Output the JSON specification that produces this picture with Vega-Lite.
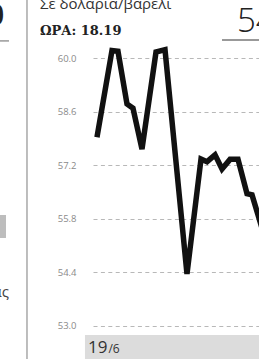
{
  "$schema": "https://vega.github.io/schema/vega-lite/v6.json",
  "autosize": {"type": "none"},
  "width": 166,
  "height": 320,
  "padding": {"left": 93, "top": 39, "right": 0, "bottom": 0},
  "background": "white",
  "config": {
    "view": {"stroke": null},
    "axisY": {"title": null, "domain": false, "ticks": false, "grid": true, "gridDash": [4, 3.4], "gridColor": "#b8b8b8", "gridWidth": 1.1,
      "format": ".1f", "labelFont": "Open Sans", "labelFontSize": 9.5, "labelColor": "#8a8a8a", "labelPadding": 17}
  },
  "data": {"values": [
    {"t": 0.13, "price": 57.93},
    {"t": 2.13, "price": 60.2},
    {"t": 2.93, "price": 60.18},
    {"t": 4.13, "price": 58.8},
    {"t": 4.93, "price": 58.69},
    {"t": 6.13, "price": 57.62},
    {"t": 8.0, "price": 60.16},
    {"t": 9.2, "price": 60.22},
    {"t": 12.13, "price": 54.35},
    {"t": 14.0, "price": 57.36},
    {"t": 14.8, "price": 57.29},
    {"t": 15.87, "price": 57.47},
    {"t": 16.8, "price": 57.1},
    {"t": 17.87, "price": 57.35},
    {"t": 18.93, "price": 57.35},
    {"t": 20.13, "price": 56.45},
    {"t": 20.8, "price": 56.42},
    {"t": 22.13, "price": 55.55}
  ]},
  "layer": [
    {
      "data": {"values": [{"label": "19/6"}]},
      "mark": {"type": "rect", "color": "#dcdcdc", "clip": false},
      "encoding": {
        "x": {"datum": -1.47, "type": "quantitative", "scale": {"domain": [-0.4, 21.73], "nice": false, "zero": false}, "axis": null},
        "x2": {"datum": 30},
        "y": {"datum": 51.9, "type": "quantitative", "scale": {"domain": [52.126, 60.5], "nice": false, "zero": false}, "title": null, "axis": {"values": [53, 54.4, 55.8, 57.2, 58.6, 60]}},
        "y2": {"datum": 52.754}
      }
    },
    {
      "mark": {"type": "line", "color": "#111111", "strokeWidth": 5.5, "strokeJoin": "miter", "clip": true},
      "encoding": {
        "x": {"field": "t", "type": "quantitative", "scale": {"domain": [-0.4, 21.73], "nice": false, "zero": false}, "axis": null},
        "y": {"field": "price", "type": "quantitative", "scale": {"domain": [52.126, 60.5], "nice": false, "zero": false}, "title": null, "axis": {"values": [53, 54.4, 55.8, 57.2, 58.6, 60]}}
      }
    },
    {
      "data": {"values": [{"label": "divider"}]},
      "mark": {"type": "rule", "color": "#a8a8a8", "strokeWidth": 1.5, "clip": false},
      "encoding": {
        "x": {"datum": -9.2, "type": "quantitative", "scale": {"domain": [-0.4, 21.73], "nice": false, "zero": false}, "axis": null},
        "y": {"datum": 51.9, "type": "quantitative", "scale": {"domain": [52.126, 60.5], "nice": false, "zero": false}, "title": null, "axis": {"values": [53, 54.4, 55.8, 57.2, 58.6, 60]}},
        "y2": {"datum": 61.7}
      }
    },
    {
      "data": {"values": [{"label": "underline"}]},
      "mark": {"type": "rule", "color": "#999999", "strokeWidth": 2, "clip": false},
      "encoding": {
        "x": {"datum": 16.8, "type": "quantitative", "scale": {"domain": [-0.4, 21.73], "nice": false, "zero": false}, "axis": null},
        "x2": {"datum": 27},
        "y": {"datum": 60.474, "type": "quantitative", "scale": {"domain": [52.126, 60.5], "nice": false, "zero": false}, "title": null, "axis": {"values": [53, 54.4, 55.8, 57.2, 58.6, 60]}}
      }
    },
    {
      "data": {"values": [{"label": "left-line"}]},
      "mark": {"type": "rule", "color": "#999999", "strokeWidth": 1.5, "clip": false},
      "encoding": {
        "x": {"datum": -13, "type": "quantitative", "scale": {"domain": [-0.4, 21.73], "nice": false, "zero": false}, "axis": null},
        "x2": {"datum": -11.6},
        "y": {"datum": 60.45, "type": "quantitative", "scale": {"domain": [52.126, 60.5], "nice": false, "zero": false}, "title": null, "axis": {"values": [53, 54.4, 55.8, 57.2, 58.6, 60]}}
      }
    },
    {
      "data": {"values": [{"label": "left-box"}]},
      "mark": {"type": "rect", "color": "#bdbdbd", "clip": false},
      "encoding": {
        "x": {"datum": -13, "type": "quantitative", "scale": {"domain": [-0.4, 21.73], "nice": false, "zero": false}, "axis": null},
        "x2": {"datum": -12.0},
        "y": {"datum": 55.894, "type": "quantitative", "scale": {"domain": [52.126, 60.5], "nice": false, "zero": false}, "title": null, "axis": {"values": [53, 54.4, 55.8, 57.2, 58.6, 60]}},
        "y2": {"datum": 55.293}
      }
    },
    {
      "data": {"values": [{"label": "Σε δολάρια/βαρέλι"}]},
      "mark": {"type": "text", "align": "left", "baseline": "alphabetic", "font": "Open Sans", "fontSize": 15, "color": "#333333", "clip": false},
      "encoding": {
        "text": {"field": "label"},
        "x": {"datum": -7.47, "type": "quantitative", "scale": {"domain": [-0.4, 21.73], "nice": false, "zero": false}, "axis": null},
        "y": {"datum": 61.285, "type": "quantitative", "scale": {"domain": [52.126, 60.5], "nice": false, "zero": false}, "title": null, "axis": {"values": [53, 54.4, 55.8, 57.2, 58.6, 60]}}
      }
    },
    {
      "data": {"values": [{"label": "ΩΡΑ: 18.19"}]},
      "mark": {"type": "text", "align": "left", "baseline": "alphabetic", "font": "DejaVu Serif", "fontWeight": "bold", "fontSize": 13, "color": "#222222", "clip": false},
      "encoding": {
        "text": {"field": "label"},
        "x": {"datum": -7.47, "type": "quantitative", "scale": {"domain": [-0.4, 21.73], "nice": false, "zero": false}, "axis": null},
        "y": {"datum": 60.6, "type": "quantitative", "scale": {"domain": [52.126, 60.5], "nice": false, "zero": false}, "title": null, "axis": {"values": [53, 54.4, 55.8, 57.2, 58.6, 60]}}
      }
    },
    {
      "data": {"values": [{"label": "54"}]},
      "mark": {"type": "text", "align": "left", "baseline": "alphabetic", "font": "Open Sans", "fontWeight": 300, "fontSize": 33, "color": "#222222", "clip": false},
      "encoding": {
        "text": {"field": "label"},
        "x": {"datum": 18.8, "type": "quantitative", "scale": {"domain": [-0.4, 21.73], "nice": false, "zero": false}, "axis": null},
        "y": {"datum": 60.68, "type": "quantitative", "scale": {"domain": [52.126, 60.5], "nice": false, "zero": false}, "title": null, "axis": {"values": [53, 54.4, 55.8, 57.2, 58.6, 60]}}
      }
    },
    {
      "data": {"values": [{"label": "19"}]},
      "mark": {"type": "text", "align": "left", "baseline": "alphabetic", "font": "Open Sans", "fontSize": 17, "color": "#333333", "clip": false},
      "encoding": {
        "text": {"field": "label"},
        "x": {"datum": -1.07, "type": "quantitative", "scale": {"domain": [-0.4, 21.73], "nice": false, "zero": false}, "axis": null},
        "y": {"datum": 52.283, "type": "quantitative", "scale": {"domain": [52.126, 60.5], "nice": false, "zero": false}, "title": null, "axis": {"values": [53, 54.4, 55.8, 57.2, 58.6, 60]}}
      }
    },
    {
      "data": {"values": [{"label": "/6"}]},
      "mark": {"type": "text", "align": "left", "baseline": "alphabetic", "font": "Open Sans", "fontSize": 12, "color": "#333333", "clip": false},
      "encoding": {
        "text": {"field": "label"},
        "x": {"datum": 1.65, "type": "quantitative", "scale": {"domain": [-0.4, 21.73], "nice": false, "zero": false}, "axis": null},
        "y": {"datum": 52.283, "type": "quantitative", "scale": {"domain": [52.126, 60.5], "nice": false, "zero": false}, "title": null, "axis": {"values": [53, 54.4, 55.8, 57.2, 58.6, 60]}}
      }
    },
    {
      "data": {"values": [{"label": "ας"}]},
      "mark": {"type": "text", "align": "right", "baseline": "alphabetic", "font": "Open Sans", "fontSize": 15, "color": "#444444", "clip": false},
      "encoding": {
        "text": {"field": "label"},
        "x": {"datum": -11.6, "type": "quantitative", "scale": {"domain": [-0.4, 21.73], "nice": false, "zero": false}, "axis": null},
        "y": {"datum": 53.75, "type": "quantitative", "scale": {"domain": [52.126, 60.5], "nice": false, "zero": false}, "title": null, "axis": {"values": [53, 54.4, 55.8, 57.2, 58.6, 60]}}
      }
    },
    {
      "data": {"values": [{"label": "0"}]},
      "mark": {"type": "text", "align": "right", "baseline": "alphabetic", "font": "Open Sans", "fontWeight": "bold", "fontSize": 28, "color": "#222222", "clip": false},
      "encoding": {
        "text": {"field": "label"},
        "x": {"datum": -12.27, "type": "quantitative", "scale": {"domain": [-0.4, 21.73], "nice": false, "zero": false}, "axis": null},
        "y": {"datum": 60.87, "type": "quantitative", "scale": {"domain": [52.126, 60.5], "nice": false, "zero": false}, "title": null, "axis": {"values": [53, 54.4, 55.8, 57.2, 58.6, 60]}}
      }
    }
  ]
}
